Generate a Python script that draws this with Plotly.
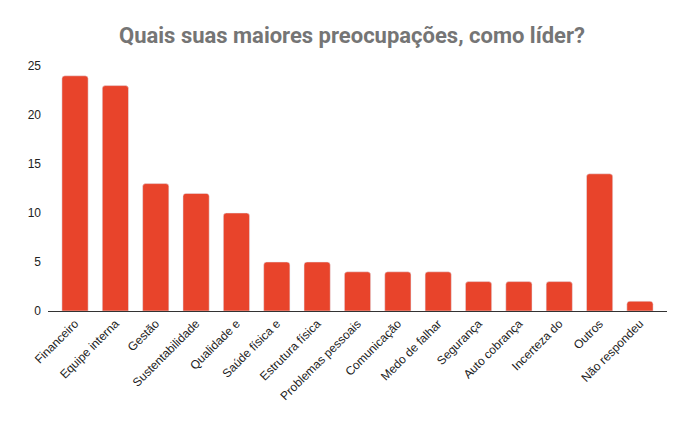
import plotly.graph_objects as go

categorias = [
    "Financeiro", "Equipe interna", "Gestão", "Sustentabilidade", "Qualidade e",
    "Saúde física e", "Estrutura física", "Problemas pessoais", "Comunicação",
    "Medo de falhar", "Segurança", "Auto cobrança", "Incerteza do", "Outros",
    "Não respondeu",
]
respostas = [24, 23, 13, 12, 10, 5, 5, 4, 4, 4, 3, 3, 3, 14, 1]
y_ticks = [0, 5, 10, 15, 20, 25]

fig = go.Figure(
    go.Bar(
        x=categorias,
        y=respostas,
        marker=dict(color="#e8442b", cornerradius=3),
        width=0.65,
    )
)

# page body adds ~8px offset, so margins are shifted accordingly
fig.update_layout(
    width=688,
    height=425,
    margin=dict(l=40, r=29, t=58, b=122),
    paper_bgcolor="white",
    plot_bgcolor="white",
    showlegend=False,
    title=dict(
        text="<b>Quais suas maiores preocupações, como líder?</b>",
        font=dict(family="Roboto", size=22, color="#757575"),
        x=0.5,
        xanchor="center",
        y=0.936,
        yanchor="middle",
    ),
    font=dict(family="Liberation Sans, Arial", size=12, color="#222222"),
)
fig.update_xaxes(
    range=[-0.67, 14.67],
    tickangle=-45,
    showline=True,
    linecolor="#333333",
    linewidth=1,
    showgrid=False,
    ticks="",
    automargin=False,
)
fig.update_yaxes(
    range=[0, 25],
    tickvals=y_ticks,
    showgrid=False,
    zeroline=False,
    ticks="",
    ticklabelstandoff=6,
    automargin=False,
)

fig.write_html("out.html")
